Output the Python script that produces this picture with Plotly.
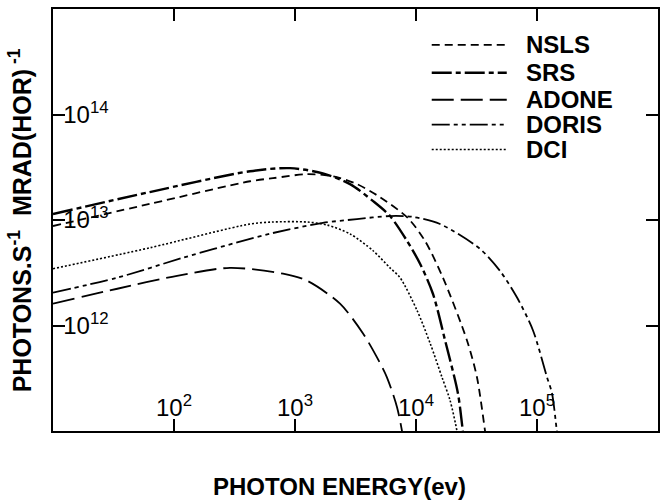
import plotly.graph_objects as go

# Photon energy (eV) and flux (photons s^-1 mrad(hor)^-1) for each storage ring
nsls_energy = [10, 63, 425, 658, 1256, 2060, 3250, 5030, 8590, 11860, 16700, 26400, 31900, 37200, 38600]
nsls_flux = [8.77e12, 1.42e13, 2.33e13, 2.49e13, 2.72e13, 2.60e13, 2.19e13, 1.65e13, 1.04e13,
             6.34e12, 2.84e12, 7.21e11, 3.23e11, 1.0e11, 7.4e10]

srs_energy = [10, 63, 425, 910, 1700, 2850, 4420, 6100, 8430, 10800, 13800, 17400, 22200, 24400, 25400]
srs_flux = [1.14e13, 1.84e13, 2.90e13, 3.10e13, 2.77e13, 2.19e13, 1.51e13, 1.09e13, 6.34e12,
            3.85e12, 2.00e12, 7.21e11, 2.28e11, 1.0e11, 7.4e10]

adone_energy = [10, 34, 106, 290, 796, 1256, 2355, 3650, 4760, 5750, 6970, 7660, 7960]
adone_flux = [1.61e12, 2.23e12, 2.96e12, 3.52e12, 3.10e12, 2.66e12, 1.61e12, 8.41e11, 4.99e11,
              3.23e11, 1.68e11, 1.0e11, 7.4e10]

doris_energy = [10, 34, 119, 425, 658, 1700, 3250, 6100, 9440, 15800, 33800, 49400, 68400, 92700,
                121000, 133000, 146000, 152000]
doris_flux = [2.05e12, 2.84e12, 4.39e12, 6.62e12, 7.53e12, 9.38e12, 1.02e13, 1.09e13, 1.07e13,
              9.16e12, 5.32e12, 3.30e12, 1.84e12, 8.97e11, 3.23e11, 2.28e11, 1.0e11, 7.4e10]

dci_energy = [10, 63, 425, 658, 1256, 1840, 2850, 4420, 6100, 7380, 10200, 13100, 16400, 19100, 21800, 22600]
dci_flux = [3.45e12, 5.45e12, 9.16e12, 9.57e12, 9.57e12, 8.97e12, 7.38e12, 5.11e12, 3.52e12,
            2.84e12, 1.39e12, 6.76e11, 3.23e11, 1.96e11, 1.0e11, 7.4e10]

ring_names = ["NSLS", "SRS", "ADONE", "DORIS", "DCI"]

x_tick_values = [1e2, 1e3, 1e4, 1e5]
x_tick_labels = ["10<sup>2</sup>", "10<sup>3</sup>", "10<sup>4</sup>", "10<sup>5</sup>"]
y_tick_values = [1e12, 1e13, 1e14]
y_tick_labels = ["10<sup>12</sup>", "10<sup>13</sup>", "10<sup>14</sup>"]

# line style per ring: (dash pattern, width)
styles = {
    "NSLS": ("8px,5px", 1.8),
    "SRS": ("20px,4px,5px,4px", 2.4),
    "ADONE": ("22px,7px", 1.8),
    "DORIS": ("18px,4px,4px,4px,4px,4px", 1.8),
    "DCI": ("2px,2px", 1.6),
}

series = {
    "NSLS": (nsls_energy, nsls_flux),
    "SRS": (srs_energy, srs_flux),
    "ADONE": (adone_energy, adone_flux),
    "DORIS": (doris_energy, doris_flux),
    "DCI": (dci_energy, dci_flux),
}

FONT = "Liberation Sans, Arial, Helvetica, sans-serif"

fig = go.Figure()
for name in ring_names:
    e, f = series[name]
    dash, width = styles[name]
    fig.add_trace(go.Scatter(
        x=e, y=f, mode="lines", name=name, showlegend=False,
        line=dict(color="black", width=width, dash=dash, shape="spline", smoothing=0.8),
    ))

# key in the upper right corner
key_x0, key_x1, key_text_x = 0.626, 0.750, 0.778
key_y = [0.915, 0.849, 0.785, 0.726, 0.667]
for name, yk in zip(ring_names, key_y):
    dash, width = styles[name]
    fig.add_shape(type="line", xref="paper", yref="paper",
                  x0=key_x0, x1=key_x1, y0=yk, y1=yk,
                  line=dict(color="black", width=width, dash=dash))
    fig.add_annotation(xref="paper", yref="paper", x=key_text_x, y=yk,
                       text="<b>%s</b>" % name, showarrow=False,
                       xanchor="left", yanchor="middle",
                       font=dict(family=FONT, size=24, color="black"))

# axis titles
fig.add_annotation(xref="paper", yref="paper", x=0.474, y=-0.132,
                   text="<b>PHOTON ENERGY(ev)</b>", showarrow=False,
                   xanchor="center", yanchor="middle",
                   font=dict(family=FONT, size=24, color="black"))
fig.add_annotation(xref="paper", yref="paper", x=-0.054, y=0.50,
                   text="<b>PHOTONS.S<sup>-1</sup>  MRAD(HOR)<sup> -1</sup></b>",
                   showarrow=False, textangle=-90,
                   xanchor="center", yanchor="middle",
                   font=dict(family=FONT, size=25, color="black"))

axis_common = dict(
    type="log", showgrid=False, zeroline=False,
    showline=True, linecolor="black", linewidth=2, mirror="ticks",
    ticks="inside", ticklen=12, tickwidth=2, tickcolor="black",
    ticklabelposition="inside",
    tickfont=dict(family=FONT, size=24, color="black"),
)

fig.update_xaxes(range=[1, 6], tickvals=x_tick_values, ticktext=x_tick_labels, **axis_common)
fig.update_yaxes(range=[11, 15], tickvals=y_tick_values, ticktext=y_tick_labels,
                 ticklabelstandoff=0, **axis_common)

fig.update_layout(
    width=668, height=504,
    margin=dict(l=53, r=10, t=7, b=73),
    paper_bgcolor="white", plot_bgcolor="white",
    showlegend=False,
)

fig.write_html("out.html")
